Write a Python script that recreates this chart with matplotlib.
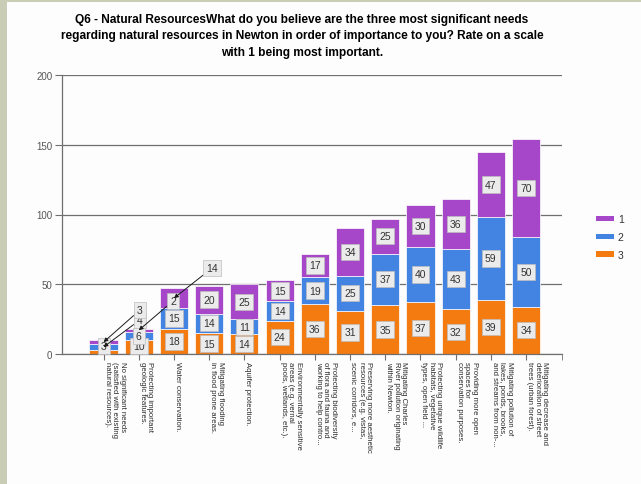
import matplotlib.pyplot as plt
from matplotlib.patches import Rectangle

plt.rcParams['font.family'] = ['Liberation Sans', 'DejaVu Sans']

categories = [
    "No significant needs\n(satisfied with existing\nnatural resources).",
    "Protecting important\ngeologic features.",
    "Water conservation.",
    "Mitigating flooding\nin flood prone areas.",
    "Aquifer protection.",
    "Environmentally sensitive\nareas (e.g. vernal\npools, wetlands, etc.).",
    "Protecting biodiversity\nof flora and fauna and\nworking to help contro...",
    "Preserving more aesthetic\nresources (e.g. vistas,\nscenic corridors, e...",
    "Mitigating Charles\nRiver pollution originating\nwithin Newton.",
    "Protecting unique wildlife\nhabitats, vegetative\ntypes, open field ...",
    "Providing more open\nspaces for\nconservation purposes.",
    "Mitigating pollution of\nlakes, ponds, brooks,\nand streams from non-...",
    "Mitigating decrease and\ndeterioration of street\ntrees (urban forest).",
]
rank3 = [3, 10, 18, 15, 14, 24, 36, 31, 35, 37, 32, 39, 34]
rank2 = [4, 6, 15, 14, 11, 14, 19, 25, 37, 40, 43, 59, 50]
rank1 = [3, 2, 14, 20, 25, 15, 17, 34, 25, 30, 36, 47, 70]
series_names = ['1', '2', '3']

colors = {'1': '#a646c8', '2': '#4383e2', '3': '#f47b10'}

# labels that don't fit inside their segment get moved out with a pointer
moved_labels = {
    (0, '2'): (1.03, 24.4),
    (0, '1'): (1.03, 31.5),
    (1, '1'): (1.97, 38.0),
    (2, '1'): (3.08, 61.6),
}

fig = plt.figure(figsize=(6.41, 4.85), dpi=100)
fig.patch.set_facecolor('#fdfdfd')
# greyish frame along the left and top edge
fig.patches.append(Rectangle((0, 0), 7 / 641, 1, transform=fig.transFigure,
                             fc='#c9cdb6', ec='none', zorder=0))
fig.patches.append(Rectangle((0, 1 - 3 / 485), 1, 3 / 485, transform=fig.transFigure,
                             fc='#c9cdb6', ec='none', zorder=0))

ax = fig.add_axes([62 / 641, 1 - 355 / 485, 500 / 641, 279 / 485])
ax.set_facecolor('none')

x = list(range(len(categories)))
bottoms = [0] * len(categories)
stack = [('3', rank3), ('2', rank2), ('1', rank1)]
width = 0.8
for name, vals in stack:
    ax.bar(x, vals, width, bottom=bottoms, color=colors[name],
           edgecolor='white', linewidth=0.5, zorder=2)
    for i, v in enumerate(vals):
        center = bottoms[i] + v / 2
        box = dict(boxstyle='square,pad=0.3', fc='#ebebeb', ec='#bdbdbd', lw=0.5)
        if (i, name) in moved_labels:
            ax.annotate(str(v), xy=(i, center), xytext=moved_labels[(i, name)],
                        ha='center', va='center', fontsize=7.5, color='#333333',
                        bbox=box, zorder=5,
                        arrowprops=dict(arrowstyle='-|>', color='#1a1a1a', lw=0.7,
                                        mutation_scale=6, shrinkA=0, shrinkB=0))
        else:
            ax.text(i, max(center, 5.5), str(v), ha='center', va='center',
                    fontsize=7.5, color='#333333', bbox=box, zorder=4)
    bottoms = [b + v for b, v in zip(bottoms, vals)]

ax.set_ylim(0, 200)
ax.set_xlim(-1.18, 13.02)
ax.set_yticks([0, 50, 100, 150, 200])
ax.yaxis.grid(True, color='#6f6f6f', linewidth=0.9, zorder=0)
ax.set_axisbelow(True)

ax.set_xticks(x)
ax.set_xticklabels(categories, rotation=-90, ha='left', va='top',
                   fontsize=5.6, color='#2a2a2a', linespacing=1.1)
ax.set_xticks([13.02], minor=True)
ax.tick_params(axis='y', length=5, color='#6f6f6f', labelsize=7,
               labelcolor='#555555', pad=2)
ax.tick_params(axis='x', which='both', length=4, color='#6f6f6f', pad=1)

for side in ('top', 'right'):
    ax.spines[side].set_visible(False)
for side in ('left', 'bottom'):
    ax.spines[side].set_color('#6f6f6f')
    ax.spines[side].set_linewidth(0.9)

fig.text(0.471, 0.972,
         "Q6 - Natural ResourcesWhat do you believe are the three most significant needs\n"
         "regarding natural resources in Newton in order of importance to you? Rate on a scale\n"
         "with 1 being most important.",
         ha='center', va='top', fontsize=8.6, fontweight='bold', linespacing=1.5)

handles = [Rectangle((0, 0), 1, 1, fc=colors[n], ec='none') for n in series_names]
fig.legend(handles, series_names, loc='center left', bbox_to_anchor=(0.915, 0.509),
           frameon=False, fontsize=7.5, handlelength=1.7, handleheight=0.45,
           labelspacing=0.75, handletextpad=0.4, labelcolor='#333333')

fig.savefig('out.png', dpi=100)
